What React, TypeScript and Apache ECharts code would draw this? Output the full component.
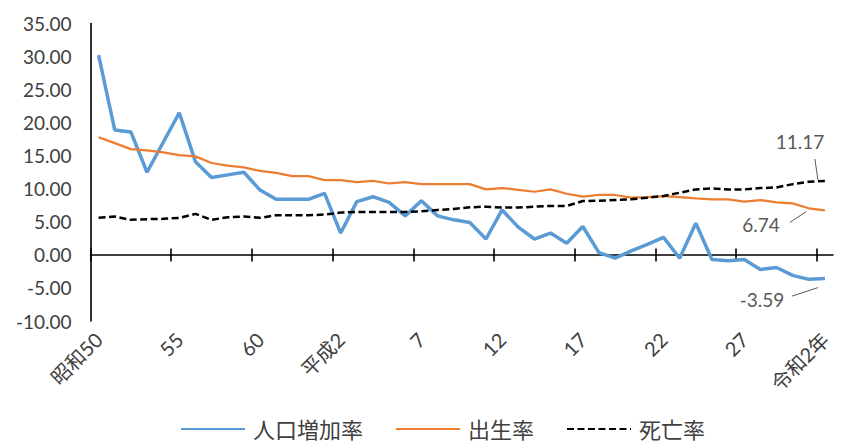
import React, { useEffect, useRef } from "react";
import * as echarts from "echarts";

const categories = [
  "昭和50", "51", "52", "53", "54", "55", "56", "57", "58", "59",
  "60", "61", "62", "63", "平成元", "平成2", "3", "4", "5", "6",
  "7", "8", "9", "10", "11", "12", "13", "14", "15", "16",
  "17", "18", "19", "20", "21", "22", "23", "24", "25", "26",
  "27", "28", "29", "30", "令和元", "令和2年",
];

const growthRate = [
  30.2, 18.9, 18.6, 12.5, 17.0, 21.5, 14.1, 11.7, 12.1, 12.5,
  9.8, 8.4, 8.4, 8.4, 9.3, 3.3, 8.05, 8.8, 7.95, 5.9,
  8.2, 5.9, 5.3, 4.9, 2.4, 6.8, 4.2, 2.4, 3.3, 1.75,
  4.3, 0.35, -0.5, 0.6, 1.6, 2.65, -0.5, 4.8, -0.7, -0.9,
  -0.7, -2.2, -1.9, -3.1, -3.7, -3.59,
];

const birthRate = [
  17.8, 16.9, 16.0, 15.8, 15.5, 15.1, 14.9, 13.9, 13.5, 13.25,
  12.7, 12.4, 11.9, 11.9, 11.3, 11.3, 11.0, 11.2, 10.8, 11.0,
  10.7, 10.7, 10.7, 10.7, 9.9, 10.1, 9.85, 9.55, 9.9, 9.25,
  8.8, 9.06, 9.06, 8.65, 8.75, 8.9, 8.75, 8.55, 8.4, 8.4,
  8.05, 8.3, 7.95, 7.8, 7.05, 6.74,
];

const deathRate = [
  5.6, 5.8, 5.3, 5.4, 5.45, 5.6, 6.2, 5.3, 5.7, 5.8,
  5.6, 6.0, 6.0, 6.0, 6.1, 6.4, 6.5, 6.5, 6.5, 6.5,
  6.6, 6.8, 6.95, 7.2, 7.3, 7.15, 7.15, 7.3, 7.4, 7.4,
  8.15, 8.2, 8.3, 8.4, 8.65, 8.9, 9.4, 9.9, 10.05, 9.9,
  9.9, 10.1, 10.2, 10.7, 11.07, 11.17,
];

const seriesNames = ["人口増加率", "出生率", "死亡率"];
const boundaries = Array.from({ length: categories.length + 1 }, () => "");

const FONT = "Lato, 'Noto Sans CJK JP', sans-serif";
const TEXT = "#404040";

export default function App() {
  const ref = useRef<HTMLDivElement>(null);

  useEffect(() => {
    if (!ref.current) return;
    const chart = echarts.init(ref.current, undefined, { renderer: "svg" });
    const gridLeft = 90.5;
    const gridTop = 23.5;
    const gridRight = 8;
    const gridBottom = 120;

    const boundaryAxis = (inside: boolean, showLine: boolean) => ({
      type: "category",
      data: boundaries,
      boundaryGap: false,
      position: "bottom",
      axisLine: {
        show: showLine,
        onZero: true,
        onZeroAxisIndex: 0,
        lineStyle: { color: "#000", width: 1.6 },
      },
      axisTick: {
        show: true,
        inside,
        length: 6.5,
        interval: 4,
        lineStyle: { color: "#000", width: 1.6 },
      },
      axisLabel: { show: false },
      splitLine: { show: false },
    });

    chart.setOption({
      animation: false,
      backgroundColor: "#fff",
      textStyle: { fontFamily: FONT },
      grid: {
        left: gridLeft,
        top: gridTop,
        right: gridRight,
        bottom: gridBottom,
        containLabel: false,
        outerBoundsMode: "none",
      },
      legend: {
        data: seriesNames,
        left: 175,
        top: 413,
        itemWidth: 64,
        itemHeight: 14,
        itemGap: 32,
        itemStyle: { color: "rgba(0,0,0,0)", borderWidth: 0 },
        textStyle: { fontSize: 22, color: TEXT, fontFamily: FONT, padding: [0, 0, 0, 3] },
      },
      xAxis: [
        {
          type: "category",
          data: categories,
          boundaryGap: true,
          position: "bottom",
          axisLine: { show: false, onZero: false },
          axisTick: { show: false },
          axisLabel: {
            interval: 4,
            rotate: 45,
            margin: 15,
            fontSize: 20,
            color: TEXT,
            fontFamily: FONT,
          },
          splitLine: { show: false },
        },
        boundaryAxis(false, true),
        boundaryAxis(true, false),
      ],
      yAxis: {
        type: "value",
        min: -10,
        max: 35,
        interval: 5,
        axisLine: { show: true, onZero: false, lineStyle: { color: "#000", width: 1.6 } },
        axisTick: { show: false },
        splitLine: { show: false },
        axisLabel: {
          margin: 19,
          fontSize: 19,
          color: TEXT,
          fontFamily: FONT,
          formatter: (v: number) => v.toFixed(2),
        },
      },
      series: [
        {
          name: seriesNames[0],
          type: "line",
          xAxisIndex: 0,
          data: growthRate,
          symbol: "none",
          color: "#5B9BD5",
          lineStyle: { color: "#5B9BD5", width: 3.5 },
        },
        {
          name: seriesNames[1],
          type: "line",
          xAxisIndex: 0,
          data: birthRate,
          symbol: "none",
          color: "#ED7D31",
          lineStyle: { color: "#ED7D31", width: 2.25 },
        },
        {
          name: seriesNames[2],
          type: "line",
          xAxisIndex: 0,
          data: deathRate,
          symbol: "none",
          color: "#000",
          lineStyle: { color: "#000", width: 2.5, type: [7, 3.5] },
        },
      ],
    });

    const last = categories.length - 1;
    const annotations = [
      { value: deathRate[last], dx: -25, dy: -40, l: [-10, -22, -7, -1] },
      { value: birthRate[last], dx: -64, dy: 14, l: [-35, 12, -19, 1.5] },
      { value: growthRate[last], dx: -63, dy: 21, l: [-33, 17.5, -7, 9] },
    ];
    const graphic: any[] = [];
    annotations.forEach((a) => {
      const p = chart.convertToPixel({ xAxisIndex: 0, yAxisIndex: 0 }, [last, a.value]) as number[];
      graphic.push({
        type: "text",
        x: p[0] + a.dx,
        y: p[1] + a.dy,
        style: {
          text: a.value.toFixed(2),
          fill: "#595959",
          font: `19px ${FONT}`,
          textAlign: "center",
          textVerticalAlign: "middle",
          align: "center",
          verticalAlign: "middle",
        },
      });
      graphic.push({
        type: "line",
        shape: { x1: p[0] + a.l[0], y1: p[1] + a.l[1], x2: p[0] + a.l[2], y2: p[1] + a.l[3] },
        style: { stroke: "#595959", lineWidth: 1 },
      });
    });
    chart.setOption({ graphic });

    return () => chart.dispose();
  }, []);

  return (
    <div
      ref={ref}
      style={{ position: "fixed", left: 0, top: 0, width: 841, height: 441, background: "#fff" }}
    />
  );
}
